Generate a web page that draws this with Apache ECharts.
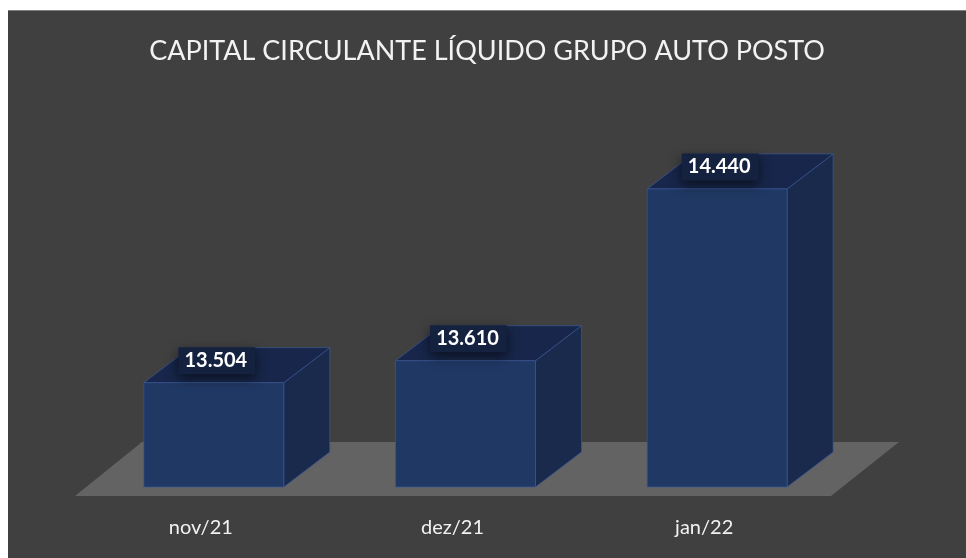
<!DOCTYPE html>
<html>
<head>
<meta charset="utf-8">
<script src="https://cdn.jsdelivr.net/npm/echarts@6/dist/echarts.min.js"></script>
<style>
    html, body { margin: 0; padding: 0; background: #ffffff; }
    #chart {
        position: absolute;
        left: 8px;
        top: 10px;
        width: 958px;
        height: 548px;
        background: #404040;
        border-top: 1px solid #7f7f7f;
        box-sizing: border-box;
    }
</style>
</head>
<body>
<div id="chart"></div>
<script>
// dados do gráfico
const categorias = ['nov/21', 'dez/21', 'jan/22'];
const valores = [13504, 13610, 14440];
const rotulos = ['13.504', '13.610', '14.440'];
const eixoMin = 13000;
const eixoMax = 15000;

const chart = echarts.init(document.getElementById('chart'));

// profundidade da "caixa" 3D em pixels
const DX = 46;
const DY = -35;

// piso cinza atrás das barras
function renderPiso(params, api) {
    const cs = params.coordSys;
    const yb = cs.y + cs.height + 9;
    const xl = cs.x - 13;
    const xr = cs.x + cs.width - 12;
    return {
        type: 'polygon',
        silent: true,
        shape: {
            points: [[xl, yb], [xr, yb], [xr + 68, yb - 54], [xl + 67, yb - 54]]
        },
        style: { fill: '#636363' }
    };
}

function renderBarra(params, api) {
    const idx = api.value(0);
    const topo = api.coord([idx, api.value(1)]);
    const base = api.coord([idx, eixoMin]);
    const banda = api.size([1, 0])[0];
    const w = banda * 0.556;
    const x0 = topo[0] - w / 2;
    const x1 = topo[0] + w / 2;
    const yt = topo[1];
    const yb = base[1];
    const borda = 'rgba(58, 88, 150, 0.7)';

    return {
        type: 'group',
        children: [
            {
                type: 'polygon',
                shape: { points: [[x1, yt], [x1 + DX, yt + DY], [x1 + DX, yb + DY], [x1, yb]] },
                style: { fill: '#1a2a4d', stroke: borda, lineWidth: 1 }
            },
            {
                type: 'polygon',
                shape: { points: [[x0, yt], [x1, yt], [x1 + DX, yt + DY], [x0 + DX, yt + DY]] },
                style: { fill: '#17264a', stroke: borda, lineWidth: 1 }
            },
            {
                type: 'rect',
                shape: { x: x0, y: yt, width: w, height: yb - yt },
                style: { fill: '#203864', stroke: borda, lineWidth: 1 }
            },
            {
                type: 'text',
                x: topo[0] + 3,
                y: yt - 22,
                style: {
                    text: rotulos[params.dataIndex],
                    fill: '#ffffff',
                    font: 'bold 20px Lato',
                    align: 'center',
                    verticalAlign: 'middle',
                    backgroundColor: '#14213f',
                    padding: [4, 8, 3, 6],
                    shadowBlur: 12,
                    shadowColor: 'rgba(0, 0, 0, 0.6)',
                    shadowOffsetY: 4
                }
            }
        ]
    };
}

chart.setOption({
    backgroundColor: '#404040',
    animation: false,
    title: {
        text: 'CAPITAL CIRCULANTE LÍQUIDO GRUPO AUTO POSTO',
        left: 'center',
        top: 22,
        textStyle: {
            color: '#f2f2f2',
            fontFamily: 'Lato',
            fontWeight: 'normal',
            fontSize: 27
        }
    },
    grid: { left: 80, right: 123, top: 62, bottom: 71 },
    xAxis: {
        type: 'category',
        data: categorias,
        axisLine: { show: false },
        axisTick: { show: false },
        axisLabel: {
            color: '#f2f2f2',
            fontFamily: 'Lato',
            fontSize: 20,
            margin: 31,
            padding: [0, 26, 0, 0]
        }
    },
    yAxis: {
        type: 'value',
        min: eixoMin,
        max: eixoMax,
        show: false
    },
    series: [
        {
            type: 'custom',
            renderItem: renderPiso,
            data: [[0]],
            silent: true
        },
        {
            type: 'custom',
            renderItem: renderBarra,
            data: valores.map((v, i) => [i, v])
        }
    ]
});
</script>
</body>
</html>
